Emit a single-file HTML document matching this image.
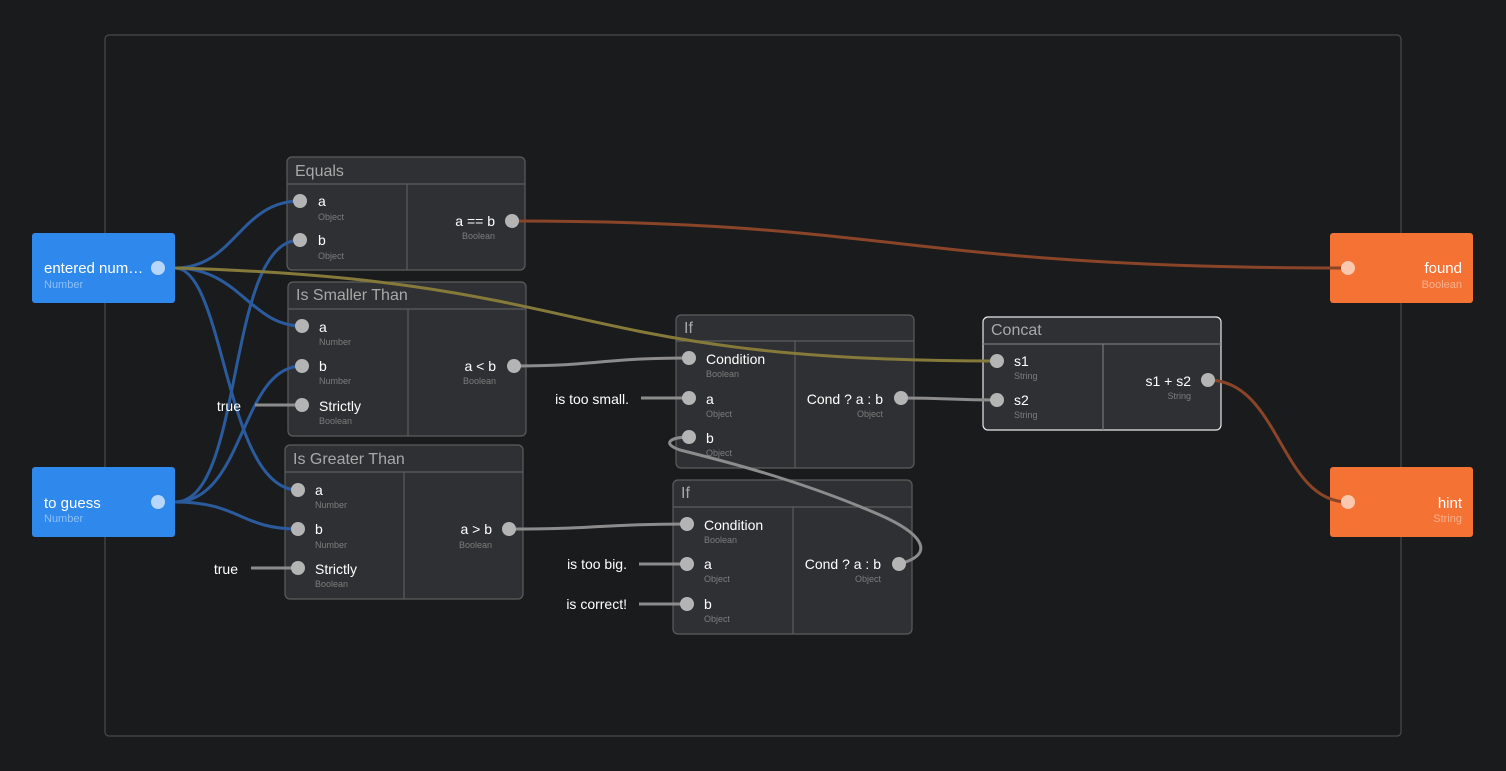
<!DOCTYPE html>
<html><head><meta charset="utf-8"><style>
html,body{margin:0;padding:0;background:#1a1b1d;}
svg{display:block;font-family:"Liberation Sans",sans-serif;}
.h{fill:#a8a8a8;font-size:16px}
.l{fill:#fff;font-size:14px}
.t{fill:#7c7c7c;font-size:9px}
.n{fill:#2f3033;stroke:#5c5c5c;stroke-width:1.2}
.d{stroke:#5c5c5c;stroke-width:1.2}
.p{fill:#b4b4b4}
.bw{fill:none;stroke:#2b5b9c;stroke-width:3}
.gw{fill:none;stroke:#8c8c8c;stroke-width:3}
</style></head><body>
<svg width="1506" height="771" viewBox="0 0 1506 771">
<rect x="0" y="0" width="1506" height="771" fill="#1a1b1d"/>
<rect x="105" y="35" width="1296" height="701" rx="4" fill="none" stroke="#4a4a4a" stroke-width="1.2"/>

<g>
<rect class="n" x="287" y="157" width="238" height="113" rx="5"/>
<line class="d" x1="287" y1="184" x2="525" y2="184"/><line class="d" x1="407" y1="184" x2="407" y2="270"/>
<text class="h" x="295" y="176">Equals</text>
<text class="l" x="318" y="206">a</text><text class="t" x="318" y="220">Object</text>
<text class="l" x="318" y="245">b</text><text class="t" x="318" y="259">Object</text>
<text class="l" x="495" y="226" text-anchor="end">a == b</text><text class="t" x="495" y="239" text-anchor="end">Boolean</text>
</g>
<g>
<rect class="n" x="288" y="282" width="238" height="154" rx="5"/>
<line class="d" x1="288" y1="309" x2="526" y2="309"/><line class="d" x1="408" y1="309" x2="408" y2="436"/>
<text class="h" x="296" y="300">Is Smaller Than</text>
<text class="l" x="319" y="332">a</text><text class="t" x="319" y="345">Number</text>
<text class="l" x="319" y="371">b</text><text class="t" x="319" y="384">Number</text>
<text class="l" x="319" y="411">Strictly</text><text class="t" x="319" y="424">Boolean</text>
<text class="l" x="496" y="371" text-anchor="end">a &lt; b</text><text class="t" x="496" y="384" text-anchor="end">Boolean</text>
</g>
<g>
<rect class="n" x="285" y="445" width="238" height="154" rx="5"/>
<line class="d" x1="285" y1="472" x2="523" y2="472"/><line class="d" x1="404" y1="472" x2="404" y2="599"/>
<text class="h" x="293" y="464">Is Greater Than</text>
<text class="l" x="315" y="495">a</text><text class="t" x="315" y="508">Number</text>
<text class="l" x="315" y="534">b</text><text class="t" x="315" y="548">Number</text>
<text class="l" x="315" y="574">Strictly</text><text class="t" x="315" y="587">Boolean</text>
<text class="l" x="492" y="534" text-anchor="end">a &gt; b</text><text class="t" x="492" y="548" text-anchor="end">Boolean</text>
</g>
<g>
<rect class="n" x="676" y="315" width="238" height="153" rx="5"/>
<line class="d" x1="676" y1="341" x2="914" y2="341"/><line class="d" x1="795" y1="341" x2="795" y2="468"/>
<text class="h" x="684" y="333">If</text>
<text class="l" x="706" y="364">Condition</text><text class="t" x="706" y="377">Boolean</text>
<text class="l" x="706" y="404">a</text><text class="t" x="706" y="417">Object</text>
<text class="l" x="706" y="443">b</text><text class="t" x="706" y="456">Object</text>
<text class="l" x="883" y="404" text-anchor="end">Cond ? a : b</text><text class="t" x="883" y="417" text-anchor="end">Object</text>
</g>
<g>
<rect class="n" x="673" y="480" width="239" height="154" rx="5"/>
<line class="d" x1="673" y1="507" x2="912" y2="507"/><line class="d" x1="793" y1="507" x2="793" y2="634"/>
<text class="h" x="681" y="498">If</text>
<text class="l" x="704" y="530">Condition</text><text class="t" x="704" y="543">Boolean</text>
<text class="l" x="704" y="569">a</text><text class="t" x="704" y="582">Object</text>
<text class="l" x="704" y="609">b</text><text class="t" x="704" y="622">Object</text>
<text class="l" x="881" y="569" text-anchor="end">Cond ? a : b</text><text class="t" x="881" y="582" text-anchor="end">Object</text>
</g>
<g>
<rect x="983" y="317" width="238" height="113" rx="5" fill="#2f3033" stroke="#e8e8e8" stroke-width="1.2"/>
<line x1="983" y1="344" x2="1221" y2="344" stroke="#777" stroke-width="1.2"/><line x1="1103" y1="344" x2="1103" y2="430" stroke="#777" stroke-width="1.2"/>
<text class="h" x="991" y="335">Concat</text>
<text class="l" x="1014" y="366">s1</text><text class="t" x="1014" y="379">String</text>
<text class="l" x="1014" y="405">s2</text><text class="t" x="1014" y="418">String</text>
<text class="l" x="1191" y="386" text-anchor="end">s1 + s2</text><text class="t" x="1191" y="399" text-anchor="end">String</text>
</g>

<rect x="32" y="233" width="143" height="70" rx="3" fill="#2f88ec"/>
<text x="44" y="273" fill="#fff" font-size="15">entered num…</text><text x="44" y="288" fill="#8cc0f7" font-size="11">Number</text>
<rect x="32" y="467" width="143" height="70" rx="3" fill="#2f88ec"/>
<text x="44" y="508" fill="#fff" font-size="15">to guess</text><text x="44" y="522" fill="#8cc0f7" font-size="11">Number</text>
<rect x="1330" y="233" width="143" height="70" rx="3" fill="#f37234"/>
<text x="1462" y="273" fill="#fff" font-size="15" text-anchor="end">found</text><text x="1462" y="288" fill="#f9b08c" font-size="11" text-anchor="end">Boolean</text>
<rect x="1330" y="467" width="143" height="70" rx="3" fill="#f37234"/>
<text x="1462" y="508" fill="#fff" font-size="15" text-anchor="end">hint</text><text x="1462" y="522" fill="#f9b08c" font-size="11" text-anchor="end">String</text>

<path class="bw" d="M175,268 C235,268 240,201 300,201"/>
<path class="bw" d="M175,268 C240,268 250,326 302,326"/>
<path class="bw" d="M175,268 C225,268 225,490 298,490"/>
<path class="bw" d="M175,502 C245,502 225,240 300,240"/>
<path class="bw" d="M175,502 C245,502 240,366 302,366"/>
<path class="bw" d="M175,502 C240,502 240,529 298,529"/>
<path d="M175,268 C600,280 560,361 997,361" fill="none" stroke="#857a3a" stroke-width="3"/>
<path d="M512,221 C900,221 900,268 1348,268" fill="none" stroke="#8a4428" stroke-width="3"/>
<path d="M1208,380 C1280,380 1280,502 1348,502" fill="none" stroke="#8a4428" stroke-width="3"/>
<path class="gw" d="M514,366 C600,366 600,358 689,358"/>
<path class="gw" d="M509,529 C600,529 600,524 687,524"/>
<path class="gw" d="M901,398 C950,398 950,400 997,400"/>
<path class="gw" d="M899,564 C935,555 925,535 880,515 C800,480 720,460 680,450 C660,443 672,437 689,437"/>
<path class="gw" d="M255,405 H302 M251,568 H298 M641,398 H689 M639,564 H687 M639,604 H687"/>

<g class="p">
<circle cx="300" cy="201" r="7"/><circle cx="300" cy="240" r="7"/><circle cx="512" cy="221" r="7"/>
<circle cx="302" cy="326" r="7"/><circle cx="302" cy="366" r="7"/><circle cx="302" cy="405" r="7"/><circle cx="514" cy="366" r="7"/>
<circle cx="298" cy="490" r="7"/><circle cx="298" cy="529" r="7"/><circle cx="298" cy="568" r="7"/><circle cx="509" cy="529" r="7"/>
<circle cx="689" cy="358" r="7"/><circle cx="689" cy="398" r="7"/><circle cx="689" cy="437" r="7"/><circle cx="901" cy="398" r="7"/>
<circle cx="687" cy="524" r="7"/><circle cx="687" cy="564" r="7"/><circle cx="687" cy="604" r="7"/><circle cx="899" cy="564" r="7"/>
<circle cx="997" cy="361" r="7"/><circle cx="997" cy="400" r="7"/><circle cx="1208" cy="380" r="7"/>
</g>
<circle cx="158" cy="268" r="7" fill="#b7d6fb"/>
<circle cx="158" cy="502" r="7" fill="#b7d6fb"/>
<circle cx="1348" cy="268" r="7" fill="#fbc7ad"/>
<circle cx="1348" cy="502" r="7" fill="#fbc7ad"/>

<text class="l" x="241" y="411" text-anchor="end">true</text>
<text class="l" x="238" y="574" text-anchor="end">true</text>
<text class="l" x="629" y="404" text-anchor="end">is too small.</text>
<text class="l" x="627" y="569" text-anchor="end">is too big.</text>
<text class="l" x="627" y="609" text-anchor="end">is correct!</text>
</svg>
</body></html>
